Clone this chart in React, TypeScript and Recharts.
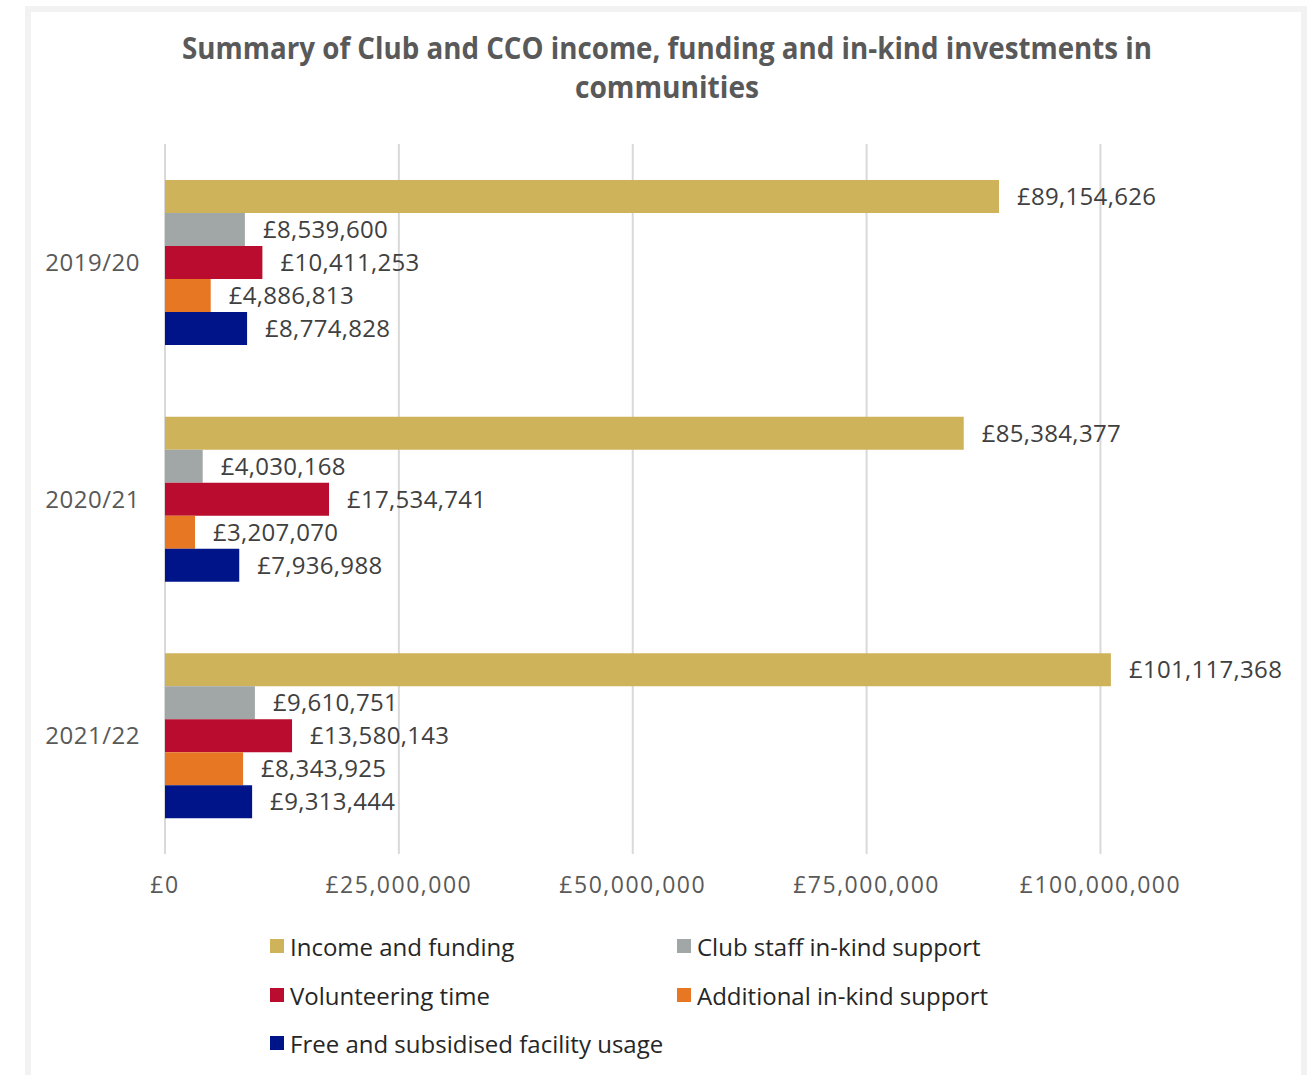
import React from 'react';
import { BarChart, Bar, XAxis, YAxis, CartesianGrid, LabelList } from 'recharts';

const seasons = ['2019/20', '2020/21', '2021/22'];
const incomeFunding = [89154626, 85384377, 101117368];
const clubStaff = [8539600, 4030168, 9610751];
const volunteering = [10411253, 17534741, 13580143];
const additionalSupport = [4886813, 3207070, 8343925];
const facilityUsage = [8774828, 7936988, 9313444];
const xTicks = [0, 25000000, 50000000, 75000000, 100000000];

const SERIES = [
  { key: 'income', name: 'Income and funding', color: '#CFB35B', values: incomeFunding },
  { key: 'staff', name: 'Club staff in-kind support', color: '#A1A7A6', values: clubStaff },
  { key: 'volunteering', name: 'Volunteering time', color: '#BA0C2F', values: volunteering },
  { key: 'additional', name: 'Additional in-kind support', color: '#E77722', values: additionalSupport },
  { key: 'facility', name: 'Free and subsidised facility usage', color: '#00148A', values: facilityUsage },
];

const FONT = "'Open Sans', 'Noto Sans', sans-serif";

// pound sign + thousands separators
function formatPounds(value: number): string {
  return '£' + Math.round(value).toString().replace(/\B(?=(\d{3})+(?!\d))/g, ',');
}

const chartData = seasons.map((season, i) => {
  const row: Record<string, any> = { season };
  SERIES.forEach((s) => {
    row[s.key] = s.values[i];
  });
  return row;
});

// legend laid out in two columns like the original
const legendSlots = [
  { left: 270, top: 946 },
  { left: 677, top: 946 },
  { left: 270, top: 995 },
  { left: 677, top: 995 },
  { left: 270, top: 1043 },
];

export default function App() {
  return (
    <div style={{ position: 'absolute', left: 0, top: 0, width: 1316, height: 1075, overflow: 'hidden', background: '#fff' }}>
      {/* chart frame */}
      <div
        style={{
          position: 'absolute',
          left: 25,
          top: 6,
          width: 1282,
          height: 1120,
          boxSizing: 'border-box',
          border: '6px solid #f2f2f2',
          background: '#fff',
        }}
      />

      <svg width={1316} height={120} style={{ position: 'absolute', left: 0, top: 0 }}>
        <text x={667} y={59} textAnchor="middle" fontFamily={FONT} fontWeight="bold" fontSize={30} fill="#595959" textLength={970} lengthAdjust="spacingAndGlyphs">
          Summary of Club and CCO income, funding and in-kind investments in
        </text>
        <text x={667} y={98} textAnchor="middle" fontFamily={FONT} fontWeight="bold" fontSize={30} fill="#595959" textLength={184} lengthAdjust="spacingAndGlyphs">
          communities
        </text>
      </svg>

      <div style={{ position: 'absolute', left: 0, top: 0 }}>
        <BarChart
          width={1316}
          height={914}
          data={chartData}
          layout="vertical"
          margin={{ top: 144, right: 122, left: 0, bottom: 0 }}
          barGap={0}
          style={{ fontFamily: FONT }}
        >
          <CartesianGrid
            horizontal={false}
            stroke="#d9d9d9"
            strokeWidth={2}
            verticalValues={xTicks}
          />
          <XAxis
            type="number"
            domain={[0, 110000000]}
            ticks={xTicks}
            height={60}
            axisLine={false}
            tickLine={false}
            tickSize={0}
            tickMargin={23}
            tickFormatter={(v: number) => formatPounds(v)}
            tick={{ fontSize: 23, fill: '#595959', letterSpacing: 1.5 }}
            interval={0}
          />
          <YAxis
            type="category"
            dataKey="season"
            width={165}
            axisLine={false}
            tickLine={false}
            tickSize={0}
            tickMargin={25}
            tick={{ fontSize: 24, fill: '#595959', letterSpacing: 0.5 }}
          />
          {SERIES.map((s) => (
            <Bar key={s.key} dataKey={s.key} name={s.name} fill={s.color} barSize={33} isAnimationActive={false}>
              <LabelList
                dataKey={s.key}
                position="right"
                offset={18}
                formatter={(v: any) => formatPounds(Number(v))}
                style={{ fontSize: 24, fill: '#404040', fontFamily: FONT, letterSpacing: 0.3 }}
              />
            </Bar>
          ))}
        </BarChart>
      </div>

      {SERIES.map((s, i) => (
        <div
          key={s.key}
          style={{
            position: 'absolute',
            left: legendSlots[i].left,
            top: legendSlots[i].top - 16,
            height: 32,
            display: 'flex',
            alignItems: 'center',
            fontFamily: FONT,
            fontSize: 24,
            color: '#262626',
            whiteSpace: 'nowrap',
          }}
        >
          <span style={{ display: 'inline-block', width: 14, height: 14, background: s.color, marginRight: 6 }} />
          {s.name}
        </div>
      ))}
    </div>
  );
}
